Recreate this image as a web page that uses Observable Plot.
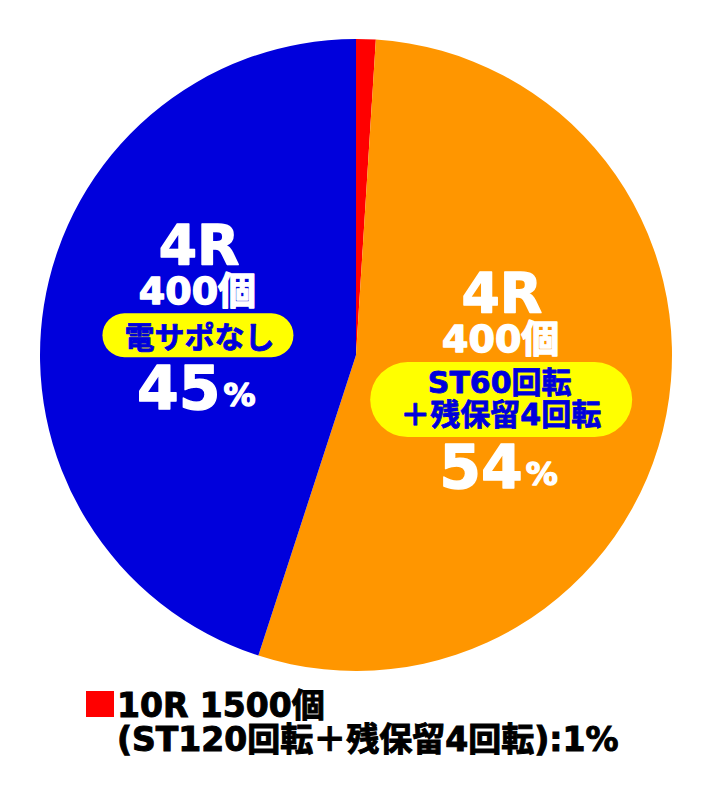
<!DOCTYPE html>
<html>
<head>
<meta charset="utf-8">
<script src="https://cdn.jsdelivr.net/npm/d3@7"></script>
<script src="https://cdn.jsdelivr.net/npm/@observablehq/plot@0.6"></script>
<style>
  html, body { margin: 0; padding: 0; background: #fff; }
  body { width: 712px; height: 796px; overflow: hidden; font-family: "DejaVu Sans", "Noto Sans CJK JP", sans-serif; }
  #legend { position: relative; height: 112px; }
  #legend .sw { position: absolute; left: 86px; top: 7px; width: 28px; height: 26px; }
  #legend .lt { position: absolute; left: 117px; top: 5px; font-weight: bold; font-size: 33px; line-height: 34px; white-space: pre; color: #000; -webkit-text-stroke: 1px #000; }
</style>
</head>
<body>
<div id="chart"></div>
<div id="legend"></div>
<script>
// ---- data ----
const categories = ["10R 1500個", "4R 400個 ST60回転", "4R 400個 電サポなし"];
const shares = [1, 54, 45];
const colors = ["#ff0000", "#ff9600", "#0000dc"];
const roundLabels = [null, "4R", "4R"];
const countLabels = [null, "400個", "400個"];
const pillLines = [null, ["ST60回転", "＋残保留4回転"], ["電サポなし"]];
const pctLabels = ["1", "54", "45"];
const legendLines = ["10R 1500個", "(ST120回転＋残保留4回転):1%"];

// ---- style / layout (not data) ----
const FONT = "DejaVu Sans, Noto Sans CJK JP, sans-serif";
const BLUE_TEXT = "#0000dc";
const PILL = "#ffff00";
const layout = {
  1: { round: [-10, -90.6], count: [-11, -45.2], pill: { dx: -10, dy: 15, w: 262, h: 75 },
       lines: [[-12, -1.6], [-11, 30.4]], pct: [11, 83.8], sign: [14, 89.8] },
  2: { round: [-1.5, -84.6], count: [-3, -39.2], pill: { dx: -2, dy: 5, w: 191, h: 44 },
       lines: [[-1, 7.4]], pct: [20, 58.8], sign: [23, 64.8] }
};

// ---- table ----
const rows = categories.map((c, i) => ({
  i, category: c, share: shares[i], color: colors[i],
  round: roundLabels[i], count: countLabels[i], pill: pillLines[i], pct: pctLabels[i]
}));
const arcs = d3.pie().sort(null).value(d => d.share)(rows);
arcs.forEach(a => {
  const mid = (a.startAngle + a.endAngle) / 2;
  a.data.cx = Math.sin(mid) * 0.5;   // centroid at half radius, data units
  a.data.cy = Math.cos(mid) * 0.5;
});

function slicesMark(index, scales) {
  const { x, y } = scales;
  const cx = x(0), cy = y(0), r = x(1) - x(0);
  const arc = d3.arc().innerRadius(0).outerRadius(r);
  const g = d3.create("svg:g").attr("transform", `translate(${cx},${cy})`);
  g.selectAll("path").data(arcs).join("path")
    .attr("d", arc).attr("fill", d => d.data.color);
  return g.node();
}

function pillsMark(index, scales) {
  const { x, y } = scales;
  const g = d3.create("svg:g");
  rows.filter(d => d.pill).forEach(d => {
    const p = layout[d.i].pill;
    const px = x(d.cx) + p.dx, py = y(d.cy) + p.dy;
    g.append("rect")
      .attr("x", px - p.w / 2).attr("y", py - p.h / 2)
      .attr("width", p.w).attr("height", p.h)
      .attr("rx", p.h / 2).attr("ry", p.h / 2)
      .attr("fill", PILL);
  });
  return g.node();
}

const textMarks = [];
rows.filter(d => d.round).forEach(d => {
  const L = layout[d.i];
  const base = { x: "cx", y: "cy", fontFamily: FONT, fontWeight: "bold" };
  const white = { fill: "white", stroke: "white", strokeWidth: 1.4 };
  const blue = { fill: BLUE_TEXT, stroke: BLUE_TEXT, strokeWidth: 0.8 };
  textMarks.push(Plot.text([d], { ...base, ...white, text: "round", fontSize: 55, dx: L.round[0], dy: L.round[1] }));
  textMarks.push(Plot.text([d], { ...base, ...white, text: "count", fontSize: 38, dx: L.count[0], dy: L.count[1] }));
  d.pill.forEach((line, k) => {
    textMarks.push(Plot.text([d], { ...base, ...blue, text: () => line, fontSize: 30, dx: L.lines[k][0], dy: L.lines[k][1] }));
  });
  textMarks.push(Plot.text([d], { ...base, ...white, text: "pct", fontSize: 60, textAnchor: "end", dx: L.pct[0], dy: L.pct[1] }));
  textMarks.push(Plot.text([d], { ...base, ...white, text: () => "%", fontSize: 32, textAnchor: "start", dx: L.sign[0], dy: L.sign[1] }));
});

const chart = Plot.plot({
  width: 712,
  height: 684,
  margin: 0,
  x: { domain: [-1, 1], range: [40, 672], axis: null },
  y: { domain: [-1, 1], range: [671, 39], axis: null },
  style: { background: "white" },
  marks: [slicesMark, pillsMark, ...textMarks]
});
document.getElementById("chart").appendChild(chart);

// ---- legend below the svg ----
const legend = d3.select("#legend");
legend.append("div").attr("class", "sw").style("background", colors[0]);
legend.append("div").attr("class", "lt").text(legendLines.join("\n"));
</script>
</body>
</html>
